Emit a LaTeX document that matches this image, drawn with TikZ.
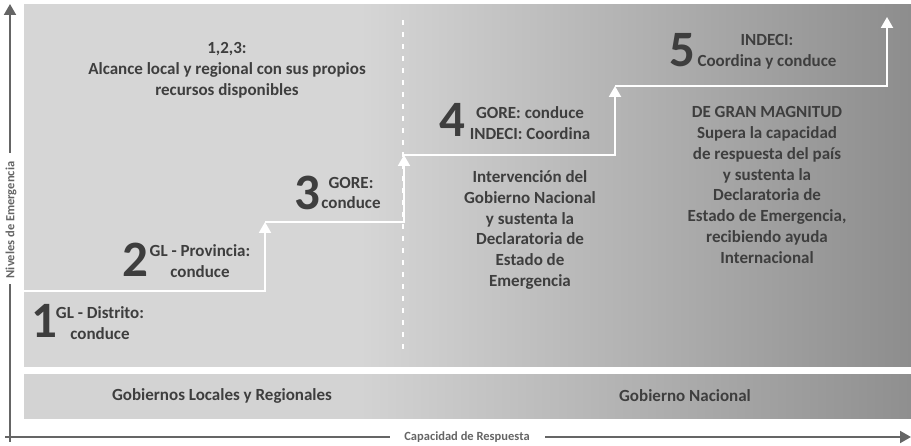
\documentclass[tikz,border=0pt]{standalone}
\usepackage{fontspec}
\setmainfont{Carlito}
\usetikzlibrary{arrows.meta}
\definecolor{txt}{HTML}{3E3E3E}
\definecolor{axisc}{HTML}{656565}
\definecolor{panelL}{HTML}{D6D6D6}
\definecolor{panelB}{HTML}{8D8D8D}
\definecolor{bandL}{HTML}{D3D3D3}
\definecolor{bandB}{HTML}{8F8F8F}
\pgfdeclarehorizontalshading{panelshade}{100bp}{color(0bp)=(panelL); color(43.9bp)=(panelL); color(75bp)=(panelB); color(100bp)=(panelB)}
\pgfdeclarehorizontalshading{bandshade}{100bp}{color(0bp)=(bandL); color(43.9bp)=(bandL); color(75bp)=(bandB); color(100bp)=(bandB)}
\begin{document}
\begin{tikzpicture}[x=1pt,y=-1pt,
  lbl/.style={font=\fontsize{17}{20.8}\selectfont\bfseries, text=txt, align=center, inner sep=0pt},
  big/.style={font=\fontsize{51}{51}\selectfont\bfseries, text=txt, inner sep=0pt},
  small/.style={font=\fontsize{12.5}{14}\selectfont\bfseries, text=axisc, inner sep=0pt},
  stepline/.style={white, line width=2pt, -{Triangle[width=12pt,length=11pt]}},
  axisline/.style={axisc, line width=2pt},
  axisarrow/.style={axisc, line width=2pt, -{Triangle[width=12pt,length=11pt]}}]
\useasboundingbox (0,0) rectangle (911,446);
% panels
\shade[shading=panelshade] (24,5) rectangle (911,367);
\shade[shading=bandshade] (24,375) rectangle (911,419);
% dashed divider
\coordinate (dtop) at (403,20);
\coordinate (dbot) at (403,350);
\draw[white, line width=2.2pt, dash pattern=on 5.5pt off 6.5pt] (dtop) -- (dbot);
% steps
\coordinate (s0) at (24,291);
\coordinate (s1) at (265,291);
\coordinate (s1t) at (265,222);
\coordinate (s2) at (404,222);
\coordinate (s2t) at (404,155);
\coordinate (s3) at (615,155);
\coordinate (s3t) at (615,86);
\coordinate (s4) at (887,86);
\coordinate (s4t) at (887,17);
\draw[stepline] (s0) -- (s1) -- (s1t);
\draw[stepline] (s1t) -- (s2) -- (s2t);
\draw[stepline] (s2t) -- (s3) -- (s3t);
\draw[stepline] (s3t) -- (s4) -- (s4t);
% axes
\coordinate (va) at (10,442);
\coordinate (vb) at (10,284);
\coordinate (vc) at (10,153);
\coordinate (vd) at (10,4);
\draw[axisline] (va) -- (vb);
\draw[axisarrow] (vc) -- (vd);
\node[small, rotate=90] (ylab) at (11,220) {Niveles de Emergencia};
\coordinate (ha) at (5,437);
\coordinate (hb) at (390,437);
\coordinate (hc) at (545,437);
\coordinate (hd) at (911,437);
\draw[axisline] (ha) -- (hb);
\draw[axisarrow] (hc) -- (hd);
\node[small] (xlab) at (467,437) {Capacidad de Respuesta};
% texts
\node[lbl] (t123) at (227,70) {1,2,3:\\Alcance local y regional con sus propios\\recursos disponibles};
\node[big] (n1) at (44,321) {1};
\node[lbl] (l1) at (100,323) {GL - Distrito:\\conduce};
\node[big] (n2) at (135,260) {2};
\node[lbl] (l2) at (200,261) {GL - Provincia:\\conduce};
\node[big] (n3) at (307,193) {3};
\node[lbl] (l3) at (351,193) {GORE:\\conduce};
\node[big] (n4) at (452,120) {4};
\node[lbl] (l4) at (530,123) {GORE: conduce\\INDECI: Coordina};
\node[big] (n5) at (682,50) {5};
\node[lbl] (l5) at (767,52) {INDECI:\\Coordina y conduce};
\node[lbl] (t4) at (530,230) {Intervención del\\Gobierno Nacional\\y sustenta la\\Declaratoria de\\Estado de\\Emergencia};
\node[lbl] (t5) at (767,185) {DE GRAN MAGNITUD\\Supera la capacidad\\de respuesta del país\\y sustenta la\\Declaratoria de\\Estado de Emergencia,\\recibiendo ayuda\\Internacional};
\node[lbl] (b1) at (222,396) {Gobiernos Locales y Regionales};
\node[lbl] (b2) at (685,396) {Gobierno Nacional};
\end{tikzpicture}
\end{document}
